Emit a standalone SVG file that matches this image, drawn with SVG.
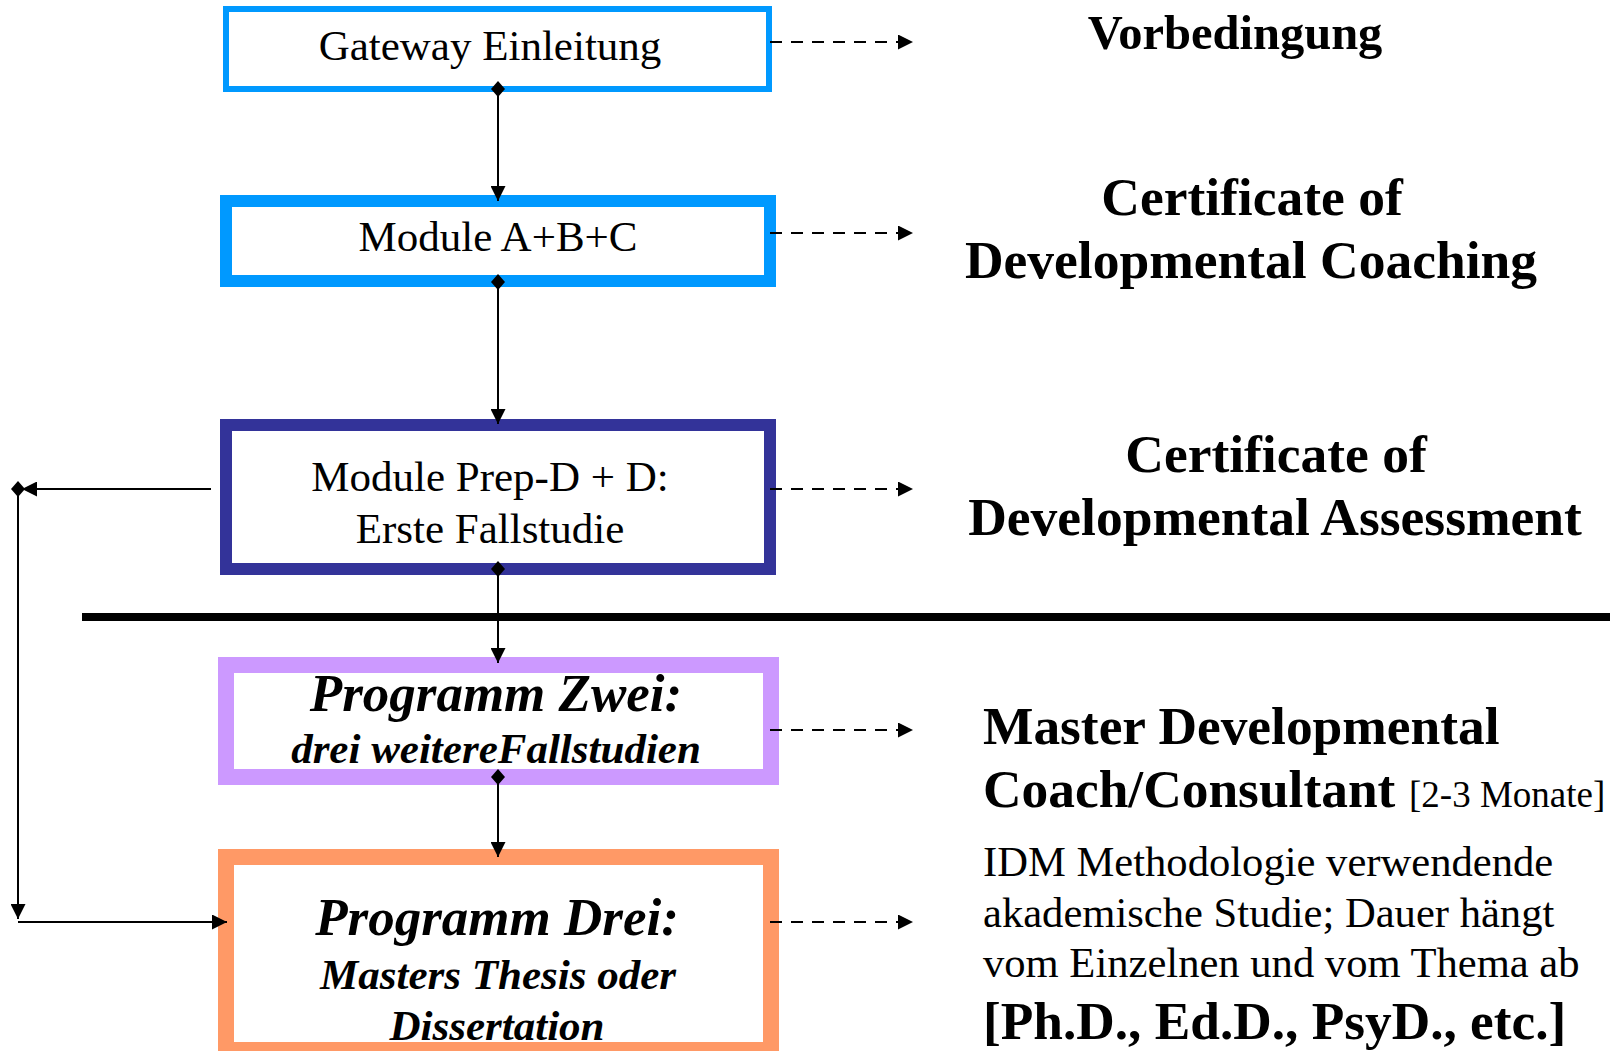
<svg xmlns="http://www.w3.org/2000/svg" width="1610" height="1051" viewBox="0 0 1610 1051">
<style>
.box{fill:#fff}
.t{font-family:"Liberation Serif","Times New Roman",serif;fill:#000}
.c{text-anchor:middle}
.b{font-weight:bold}
.bi{font-weight:bold;font-style:italic}
.con{stroke:#000;stroke-width:2;fill:none}
.dash{stroke:#000;stroke-width:2;fill:none;stroke-dasharray:12,9}
</style>
<defs>
<marker id="arr" markerUnits="userSpaceOnUse" markerWidth="15" markerHeight="15" refX="15" refY="7.5" orient="auto" viewBox="0 0 15 15">
<path d="M0,0 L15,7.5 L0,15 z" fill="#000"/>
</marker>
<marker id="dia" markerUnits="userSpaceOnUse" markerWidth="16" markerHeight="14" refX="8" refY="7" orient="auto" viewBox="0 0 16 14">
<path d="M0,7 L8,0 L16,7 L8,14 z" fill="#000"/>
</marker>
</defs>
<rect width="1610" height="1051" fill="#fff"/>

<g id="n1">
<rect class="box" x="226" y="9" width="543" height="80" stroke="#0099FF" stroke-width="6"/>
<text class="t c" x="490" y="60" font-size="43">Gateway Einleitung</text>
</g>
<g id="n2">
<rect class="box" x="226" y="201" width="544" height="80" stroke="#0099FF" stroke-width="12"/>
<text class="t c" x="498" y="251" font-size="43">Module A+B+C</text>
</g>
<g id="n3">
<rect class="box" x="226" y="425" width="544" height="144" stroke="#333399" stroke-width="12"/>
<text class="t c" x="490" y="491" font-size="43">Module Prep-D + D:</text>
<text class="t c" x="490" y="543" font-size="43">Erste Fallstudie</text>
</g>
<g id="n4">
<rect class="box" x="226" y="665" width="545" height="112" stroke="#CC99FF" stroke-width="16"/>
<text class="t c bi" x="496" y="711" font-size="53">Programm Zwei:</text>
<text class="t c bi" x="496" y="763" font-size="43">drei weitereFallstudien</text>
</g>
<g id="n5">
<rect class="box" x="226" y="857" width="545" height="193" stroke="#FF9966" stroke-width="16"/>
<text class="t c bi" x="497" y="935" font-size="53">Programm Drei:</text>
<text class="t c bi" x="498" y="989" font-size="43">Masters Thesis oder</text>
<text class="t c bi" x="497" y="1040" font-size="43">Dissertation</text>
</g>

<g id="labels">
<text class="t c b" x="1235" y="49" font-size="48.5">Vorbedingung</text>
<text class="t c b" x="1252" y="215" font-size="53.5">Certificate of</text>
<text class="t c b" x="1251" y="278" font-size="53.5">Developmental Coaching</text>
<text class="t c b" x="1276" y="472" font-size="53.5">Certificate of</text>
<text class="t c b" x="1275" y="535" font-size="53.5">Developmental Assessment</text>
<text class="t b" x="983" y="744" font-size="53.4">Master Developmental</text>
<text class="t" x="983" y="807"><tspan class="b" font-size="53.4">Coach/Consultant</tspan><tspan x="1409" font-size="37">[2-3 Monate]</tspan></text>
<text class="t" x="983" y="876" font-size="42.6">IDM Methodologie verwendende</text>
<text class="t" x="983" y="927" font-size="42.6">akademische Studie; Dauer hängt</text>
<text class="t" x="983" y="977" font-size="42.6">vom Einzelnen und vom Thema ab</text>
<text class="t b" x="983" y="1039" font-size="53.3">[Ph.D., Ed.D., PsyD., etc.]</text>
</g>

<g id="connectors">
<line x1="82" y1="617" x2="1610" y2="617" stroke="#000" stroke-width="8"/>
<path class="con" d="M498,89 L498,201" marker-start="url(#dia)" marker-end="url(#arr)"/>
<path class="con" d="M498,282 L498,424" marker-start="url(#dia)" marker-end="url(#arr)"/>
<path class="con" d="M498,569 L498,663" marker-start="url(#dia)" marker-end="url(#arr)"/>
<path class="con" d="M498,777 L498,857" marker-start="url(#dia)" marker-end="url(#arr)"/>
<path class="con" d="M211,489 L22,489" marker-end="url(#arr)"/>
<path class="con" d="M18,489 L18,919" marker-start="url(#dia)" marker-end="url(#arr)"/>
<path class="con" d="M18,922 L227,922" marker-end="url(#arr)"/>
<path class="dash" d="M770,42 L913,42" marker-end="url(#arr)"/>
<path class="dash" d="M770,233 L913,233" marker-end="url(#arr)"/>
<path class="dash" d="M770,489 L913,489" marker-end="url(#arr)"/>
<path class="dash" d="M770,730 L913,730" marker-end="url(#arr)"/>
<path class="dash" d="M770,922 L913,922" marker-end="url(#arr)"/>
</g>
</svg>
